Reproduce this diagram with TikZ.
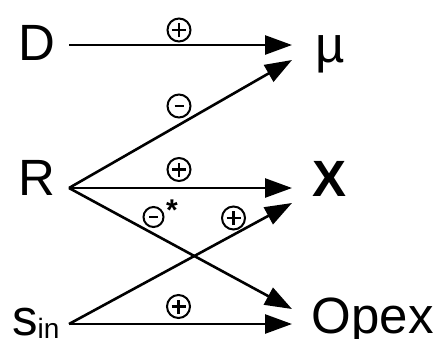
\documentclass[tikz,border=0pt]{standalone}
\usepackage{fontspec}
\setmainfont{Liberation Sans}
\usetikzlibrary{arrows.meta}
\begin{document}
\begin{tikzpicture}[x=1pt,y=-1pt,
  lbl/.style={anchor=base west,inner sep=0pt,font=\fontsize{51}{60}\selectfont},
  conn/.style={line width=2.6pt,-{Triangle[length=27pt,width=19pt]}},
  sign/.style={circle,draw,line width=2pt,minimum size=23pt,inner sep=0pt},
  plus/.style={sign,path picture={
     \draw[line width=2.2pt] ([xshift=-7pt]path picture bounding box.center) -- ([xshift=7pt]path picture bounding box.center);
     \draw[line width=2.2pt] ([yshift=-7pt]path picture bounding box.center) -- ([yshift=7pt]path picture bounding box.center);}},
  minus/.style={sign,path picture={
     \draw[line width=2.2pt] ([xshift=-4.5pt]path picture bounding box.center) -- ([xshift=4.5pt]path picture bounding box.center);}}
]
\useasboundingbox (0,0) rectangle (433,338);
% labels
\node[lbl] (D) at (18,60) {D};
\node[lbl] (R) at (18,195) {R};
\node[lbl] (s) at (12,335) {s\raisebox{-3pt}{\fontsize{28}{30}\selectfont in}};
\node[lbl] (mu) at (315,62) {µ};
\node[lbl] (X) at (312.5,196) {\bfseries X};
\node[lbl] (Opex) at (311.5,333) {Opex};
% connector ends
\coordinate (Dout) at (69,45);
\coordinate (Rout) at (69,188);
\coordinate (sout) at (69,324);
\coordinate (muA) at (292,45);
\coordinate (muB) at (292,60);
\coordinate (XA) at (292,188);
\coordinate (XB) at (292,203);
\coordinate (OpA) at (292,309);
\coordinate (OpB) at (292,324);
% connectors
\draw[conn] (Dout) -- (muA);
\draw[conn] (Rout) -- (muB);
\draw[conn] (Rout) -- (XA);
\draw[conn] (Rout) -- (OpA);
\draw[conn] (sout) -- (XB);
\draw[conn] (sout) -- (OpB);
% signs
\node[plus] (p1) at (179,30) {};
\node[minus] (m1) at (179,106) {};
\node[plus] (p2) at (179,169.5) {};
\node[minus,minimum size=20pt] (m2) at (153.5,217) {};
\node[anchor=center,inner sep=0pt,font=\bfseries\fontsize{30}{32}\selectfont] (ast) at (172,210) {*};
\node[plus] (p3) at (233.5,218) {};
\node[plus] (p4) at (178.5,306.5) {};
\end{tikzpicture}
\end{document}
